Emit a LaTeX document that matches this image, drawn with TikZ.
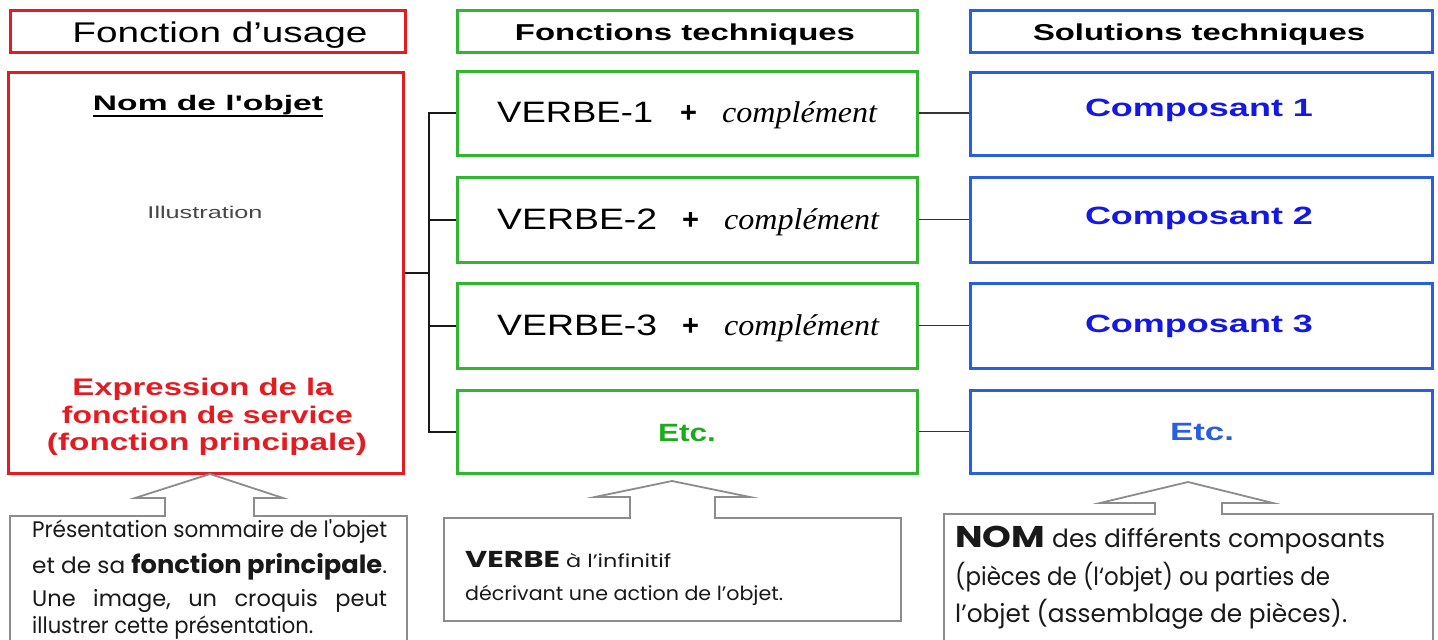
\documentclass[tikz,border=0pt]{standalone}
\usepackage{fontspec}
\usepackage{graphicx}
\setmainfont{Liberation Sans}
\newfontfamily\tmsfont{Liberation Serif}
\newfontfamily\cgfont{Poppins}
\newcommand\fw[2]{\resizebox{#1}{\height}{#2}}
\newcommand\fsz[1]{\fontsize{#1}{#1}\selectfont}
\newcommand\sq{{\addfontfeature{Ligatures=TeXOff}'}}
\definecolor{myred}{RGB}{228,28,34}
\definecolor{mygreen}{RGB}{50,182,50}
\definecolor{txtgreen}{RGB}{30,170,30}
\definecolor{myblue}{RGB}{40,95,225}
\definecolor{txtblue}{RGB}{20,25,225}
\definecolor{callgray}{RGB}{140,140,140}
\begin{document}
\begin{tikzpicture}[x=1pt,y=-1pt,
  rbox/.style={draw=myred, line width=3pt, inner sep=0},
  gbox/.style={draw=mygreen, line width=3pt, inner sep=0},
  bbox/.style={draw=myblue, line width=3pt, inner sep=0},
  conn/.style={draw=black!90, line width=2pt},
  conn2/.style={draw=black!80, line width=1.6pt},
  call/.style={draw=callgray, line width=1.8pt, line join=miter},
  t/.style={inner sep=0, anchor=base},
  tw/.style={inner sep=0, anchor=base west},
  ctext/.style={inner sep=0, anchor=base west, text=black!90, font=\cgfont}]
\fill[white] (0,0) rectangle (1438,640);
\useasboundingbox (0,0) rectangle (1438,640);
\clip (0,0) rectangle (1438,640);

% headers
\node[rbox, minimum width=395pt, minimum height=42pt] (h1) at (207.5,31) {};
\node[gbox, minimum width=460pt, minimum height=42pt] (h2) at (687,31) {};
\node[bbox, minimum width=462pt, minimum height=42pt] (h3) at (1201,31) {};
\node[t] (h1t) at (220,42) {\fw{295pt}{\fsz{28.5}Fonction d’usage}};
\node[t] (h2t) at (685,40) {\fw{340pt}{\bfseries\fsz{23}Fonctions techniques}};
\node[t] (h3t) at (1199,40) {\fw{332pt}{\bfseries\fsz{23}Solutions techniques}};

% left box
\node[rbox, minimum width=395pt, minimum height=401pt] (L) at (205.5,272.5) {};
\node[t] (nom) at (208,110) {\fw{230pt}{\bfseries\fsz{21}Nom de l\sq objet}};
\draw[line width=2pt] ([yshift=-6pt]nom.base west) -- ([yshift=-6pt]nom.base east);
\node[t, text=black!72] (ill) at (205,218) {\fw{115pt}{\fsz{17}Illustration}};
\node[t, text=myred] (ex1) at (203,395) {\fw{261pt}{\bfseries\fsz{24}Expression de la}};
\node[t, text=myred] (ex2) at (207.5,423) {\fw{291pt}{\bfseries\fsz{24}fonction de service}};
\node[t, text=myred] (ex3) at (207,450) {\fw{320pt}{\bfseries\fsz{24}(fonction principale)}};

% green boxes
\node[gbox, minimum width=460pt, minimum height=84pt] (g1) at (687,113) {};
\node[gbox, minimum width=460pt, minimum height=85pt] (g2) at (687,219.5) {};
\node[gbox, minimum width=460pt, minimum height=85pt] (g3) at (687,325.5) {};
\node[gbox, minimum width=460pt, minimum height=83pt] (g4) at (687,431.5) {};
\node[tw] (v1) at (497,122) {\fw{156pt}{\fsz{29.5}VERBE-1}\hspace{27pt}{\bfseries\fsz{29}+}\hspace{25pt}\fw{155pt}{\tmsfont\itshape\fsz{30}complément}};
\node[tw] (v2) at (497,229) {\fw{160pt}{\fsz{29.5}VERBE-2}\hspace{25pt}{\bfseries\fsz{29}+}\hspace{25pt}\fw{155pt}{\tmsfont\itshape\fsz{30}complément}};
\node[tw] (v3) at (497,335) {\fw{160pt}{\fsz{29.5}VERBE-3}\hspace{25pt}{\bfseries\fsz{29}+}\hspace{25pt}\fw{155pt}{\tmsfont\itshape\fsz{30}complément}};
\node[t, text=txtgreen] (e1) at (687,441) {\fw{58pt}{\bfseries\fsz{25}Etc.}};

% blue boxes
\node[bbox, minimum width=462pt, minimum height=83pt] (b1) at (1201,113.5) {};
\node[bbox, minimum width=462pt, minimum height=85pt] (b2) at (1201,219.5) {};
\node[bbox, minimum width=462pt, minimum height=85pt] (b3) at (1201,325.5) {};
\node[bbox, minimum width=462pt, minimum height=83pt] (b4) at (1201,431.5) {};
\node[t, text=txtblue] (c1) at (1199,116) {\fw{228pt}{\bfseries\fsz{25}Composant 1}};
\node[t, text=txtblue] (c2) at (1199,224) {\fw{228pt}{\bfseries\fsz{25}Composant 2}};
\node[t, text=txtblue] (c3) at (1199,332) {\fw{228pt}{\bfseries\fsz{25}Composant 3}};
\node[t, text=myblue] (e2) at (1202,440) {\fw{64pt}{\bfseries\fsz{25}Etc.}};

% connectors
\coordinate (tr) at (429,272.5);
\draw[conn] (L.east) -- (tr);
\draw[conn] (g1.west) -- (g1.west -| tr) -- (g4.west -| tr) -- (g4.west);
\draw[conn] (g2.west) -- (g2.west -| tr);
\draw[conn] (g3.west) -- (g3.west -| tr);
\draw[conn2] (g1.east) -- (g1.east -| b1.west);
\draw[conn2] (g2.east) -- (b2.west);
\draw[conn2] (g3.east) -- (b3.west);
\draw[conn2] (g4.east) -- (b4.west);

% callouts
\draw[call] (10,660) -- (10,516) -- (165,516) -- (165,498) -- (135,498) -- (210,474) -- (283,498) -- (254,498) -- (254,516) -- (407,516) -- (407,660);
\draw[call] (444,518) -- (630,518) -- (630,497) -- (595,497) -- (672,481) -- (750,497) -- (715,497) -- (715,518) -- (901,518) -- (901,621) -- (444,621) -- cycle;
\draw[call] (944,660) -- (944,514) -- (1155,514) -- (1155,503) -- (1100,503) -- (1188,482) -- (1273,503) -- (1222,503) -- (1222,514) -- (1433,514) -- (1433,660);

% callout texts
\node[ctext] (l1) at (32,537) {\fw{355pt}{\fsz{22.5}Présentation sommaire de l\sq objet}};
\node[ctext] (l2) at (32,573) {\fw{355pt}{\fsz{22.5}et de sa {\bfseries\fsz{25}fonction principale}.}};
\node[ctext] (l3) at (32,606) {\fsz{22.5}\makebox[355pt][s]{Une\hfill image,\hfill un\hfill croquis\hfill peut}};
\node[ctext] (l4) at (32,633) {\fw{281pt}{\fsz{22.5}illustrer cette présentation.}};

\node[ctext] (m1) at (465,567) {\fw{95pt}{\bfseries\fsz{23}VERBE}\hspace{6pt}\fw{105pt}{\fsz{18}à l’infinitif}};
\node[ctext] (m2) at (465,600) {\fw{318pt}{\fsz{19.5}décrivant une action de l’objet.}};

\node[ctext] (r1) at (955,547) {\fw{90pt}{\bfseries\fsz{30}NOM}\hspace{7pt}\fw{333pt}{\fsz{25}des différents composants}};
\node[ctext] (r2) at (955,585) {\fw{375pt}{\fsz{25}(pièces de (l‘objet) ou parties de}};
\node[ctext] (r3) at (955,622) {\fw{392pt}{\fsz{25}l’objet (assemblage de pièces).}};
\end{tikzpicture}
\end{document}
